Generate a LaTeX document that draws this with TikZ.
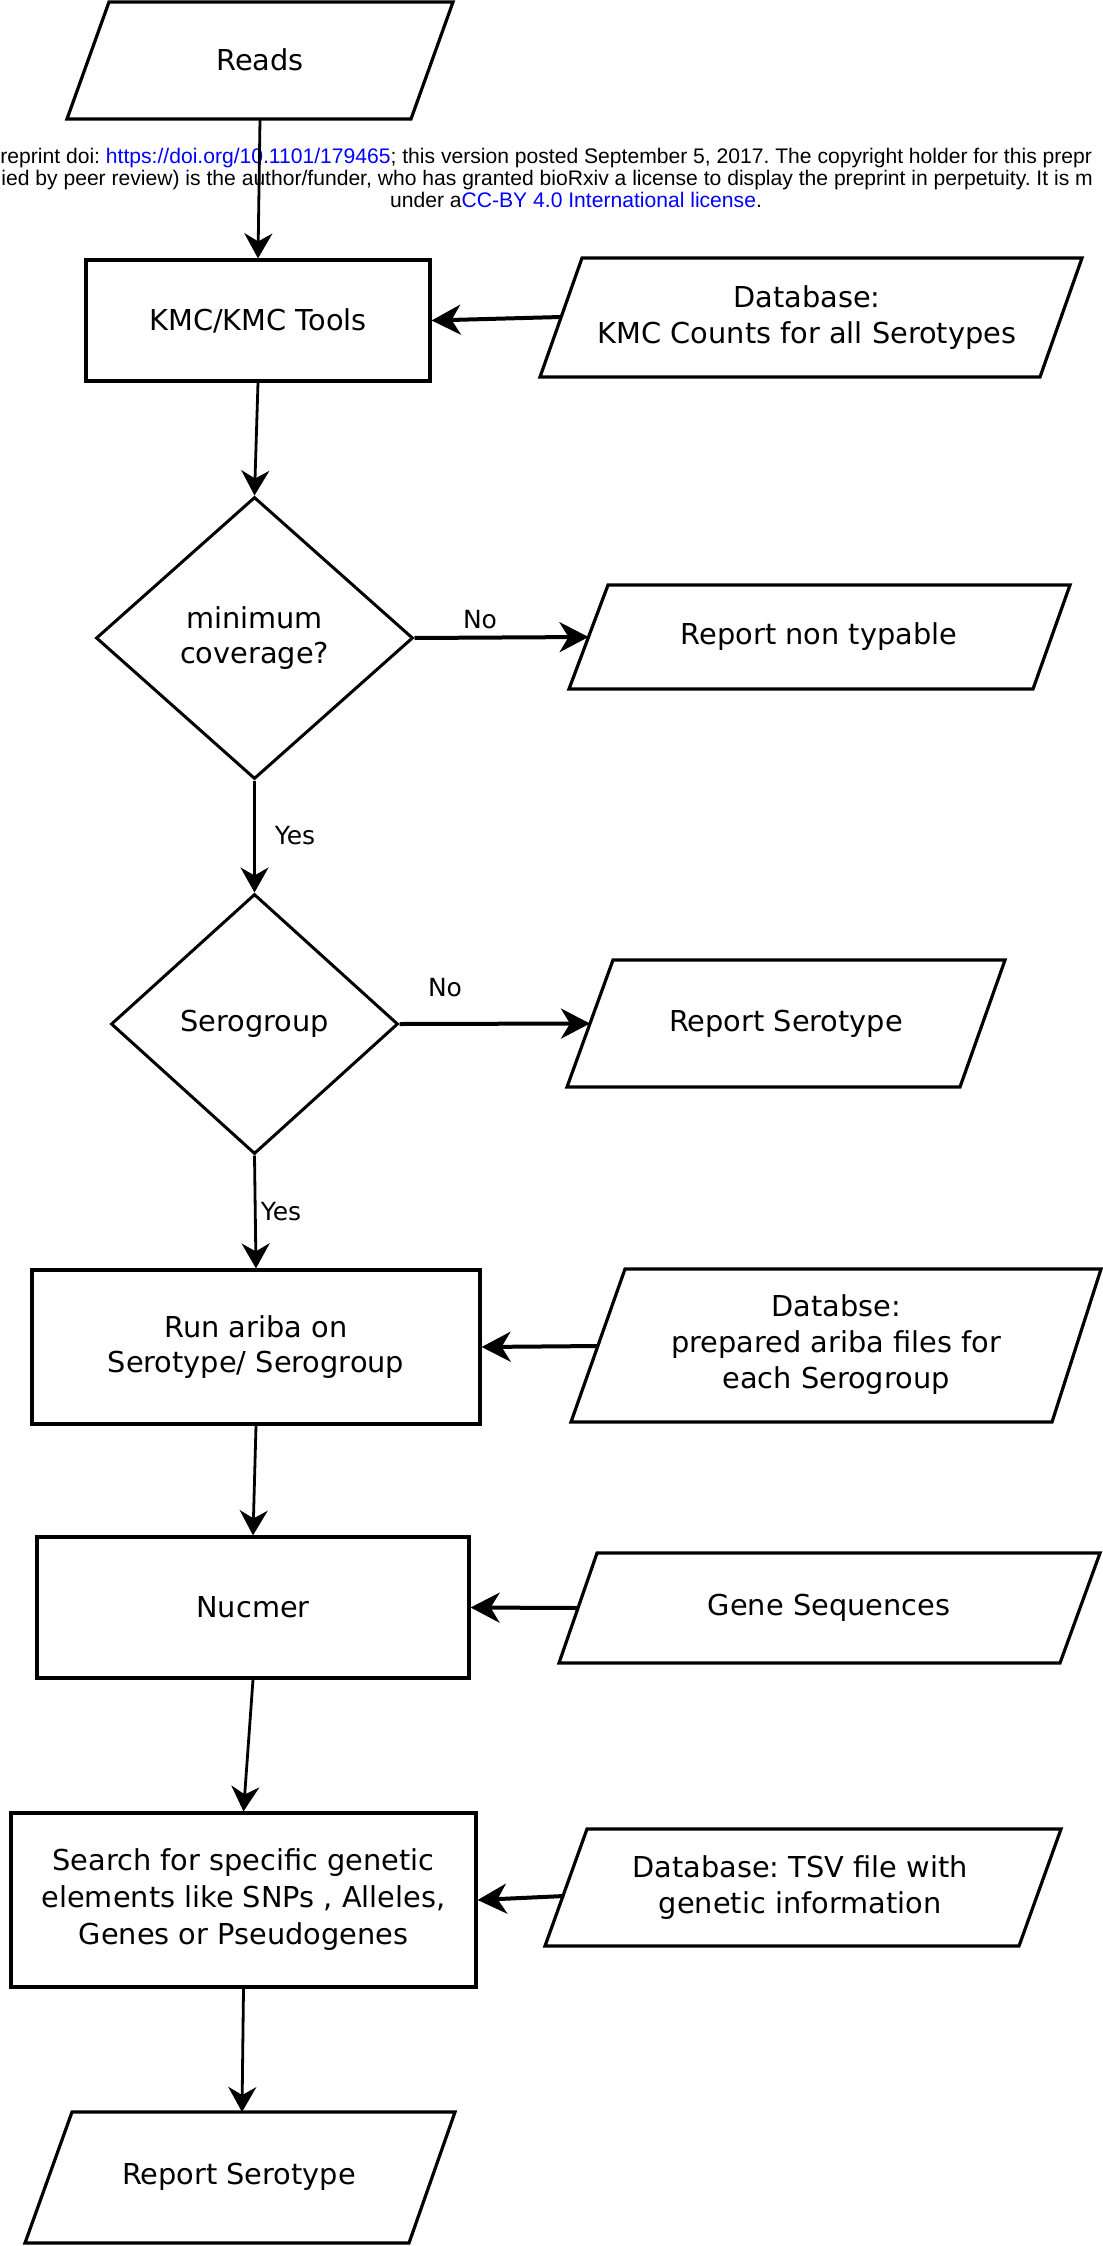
\documentclass[tikz,border=0pt]{standalone}
\usepackage{fontspec}
\setmainfont{DejaVu Sans}
\newfontfamily\hdrfont{Liberation Sans}
\usetikzlibrary{arrows.meta,shapes.geometric}
\definecolor{linkblue}{RGB}{0,0,255}
\frenchspacing
\begin{document}
\begin{tikzpicture}[x=0.5pt,y=-0.5pt,
  box/.style={draw, line width=1.6pt, rectangle, inner sep=0pt, align=center, font=\fontsize{14.4}{17.5}\selectfont},
  dec/.style={draw, line width=1.5pt, diamond, inner sep=0pt, align=center, font=\fontsize{14.4}{17.5}\selectfont},
  io/.style={draw, line width=1.6pt, line join=miter},
  lbl/.style={inner sep=0pt, align=center, font=\fontsize{14.4}{18}\selectfont},
  yn/.style={inner sep=0pt, font=\fontsize{12.5}{15}\selectfont},
  hdr/.style={inner sep=0pt, anchor=west, font=\hdrfont\fontsize{10.55}{10.55}\selectfont},
  flow/.style={line width=1.4pt, -{Stealth[length=12.5pt,width=14pt,inset=4pt]}},
  feed/.style={line width=2pt, -{Stealth[length=14.5pt,width=15pt,inset=4.5pt]}}
]
\useasboundingbox (0,0) rectangle (1102,2246);
\fill[white] (0,0) rectangle (1102,2246);

% header
\node[hdr] (hdrA) at (0,158) {reprint doi: \textcolor{linkblue}{https://doi.org/10.1101/179465}; this version posted September 5, 2017. The copyright holder for this prepr};
\node[hdr] (hdrB) at (1,180) {ied by peer review) is the author/funder, who has granted bioRxiv a license to display the preprint in perpetuity. It is m};
\node[hdr, anchor=center] (hdrC) at (576,200) {under a\textcolor{linkblue}{CC-BY 4.0 International license}.};

% Reads
\draw[io] (109,2) -- (453,2) -- (411,119) -- (67,119) -- cycle;
\node[lbl] (reads) at (260,60) {Reads};
\coordinate (readsS) at (260,119);

% KMC
\node[box, minimum width=172pt, minimum height=60.5pt] (kmc) at (258,320.5) {KMC/KMC Tools};
\draw[io] (582,258) -- (1082,258) -- (1040,377) -- (540,377) -- cycle;
\node[lbl] (db1) at (807,317.5) {Database:\\KMC Counts for all Serotypes};
\coordinate (db1W) at (561,317);

% decision 1
\node[dec, minimum width=158.5pt, minimum height=141pt] (cov) at (254.5,638) {minimum\\coverage?};
\draw[io] (608,585) -- (1070,585) -- (1033,689) -- (569,689) -- cycle;
\node[lbl] (rnt) at (819,637) {Report non typable};
\coordinate (rntW) at (588.5,637);
\node[yn] (no1) at (480,620) {No};

% decision 2
\node[dec, minimum width=143.5pt, minimum height=130pt] (sg) at (254.5,1024) {Serogroup};
\node[yn] (yes1) at (295,836) {Yes};
\draw[io] (613,960) -- (1005,960) -- (960,1087) -- (567,1087) -- cycle;
\node[lbl] (rs1) at (786,1024) {Report Serotype};
\coordinate (rs1W) at (590,1023.5);
\node[yn] (no2) at (445,988) {No};
\node[yn] (yes2) at (281,1212) {Yes};

% ariba
\node[box, minimum width=224pt, minimum height=77pt] (ariba) at (256,1347) {Run ariba on\\Serotype/ Serogroup};
\draw[io] (625,1269) -- (1101,1269) -- (1052,1422) -- (571,1422) -- cycle;
\node[lbl] (dba) at (836,1345) {Databse:\\prepared ariba files for\\each Serogroup};
\coordinate (dbaW) at (598,1346);

% nucmer
\node[box, minimum width=216pt, minimum height=70.5pt] (nuc) at (253,1607.5) {Nucmer};
\draw[io] (597,1553) -- (1100,1553) -- (1060,1663) -- (559,1663) -- cycle;
\node[lbl] (gene) at (829,1608) {Gene Sequences};
\coordinate (geneW) at (578,1608);

% search
\node[box, minimum width=232.5pt, minimum height=87pt, font=\fontsize{14.4}{18.5}\selectfont] (search) at (243.5,1900) {Search for specific genetic\\elements like SNPs , Alleles,\\Genes or Pseudogenes};
\draw[io] (587,1829) -- (1061,1829) -- (1019,1946) -- (545,1946) -- cycle;
\node[lbl] (tsv) at (800,1887.5) {Database: TSV file with\\genetic information};
\coordinate (tsvW) at (564,1896);

% final report
\draw[io] (72,2112) -- (455,2112) -- (409,2243) -- (25,2243) -- cycle;
\node[lbl] (rs2) at (239,2177) {Report Serotype};
\coordinate (rs2N) at (242,2112);

% connectors
\draw[flow] (readsS) -- (kmc.north);
\draw[feed] (db1W) -- (kmc.east);
\draw[flow] (kmc.south) -- (cov.north);
\draw[feed] (cov.east) -- (rntW);
\draw[flow] (cov.south) -- (sg.north);
\draw[feed] (sg.east) -- (rs1W);
\draw[flow] (sg.south) -- (ariba.north);
\draw[feed] (dbaW) -- (ariba.east);
\draw[flow] (ariba.south) -- (nuc.north);
\draw[feed] (geneW) -- (nuc.east);
\draw[flow] (nuc.south) -- (search.north);
\draw[feed] (tsvW) -- (search.east);
\draw[flow] (search.south) -- (rs2N);
\end{tikzpicture}
\end{document}
